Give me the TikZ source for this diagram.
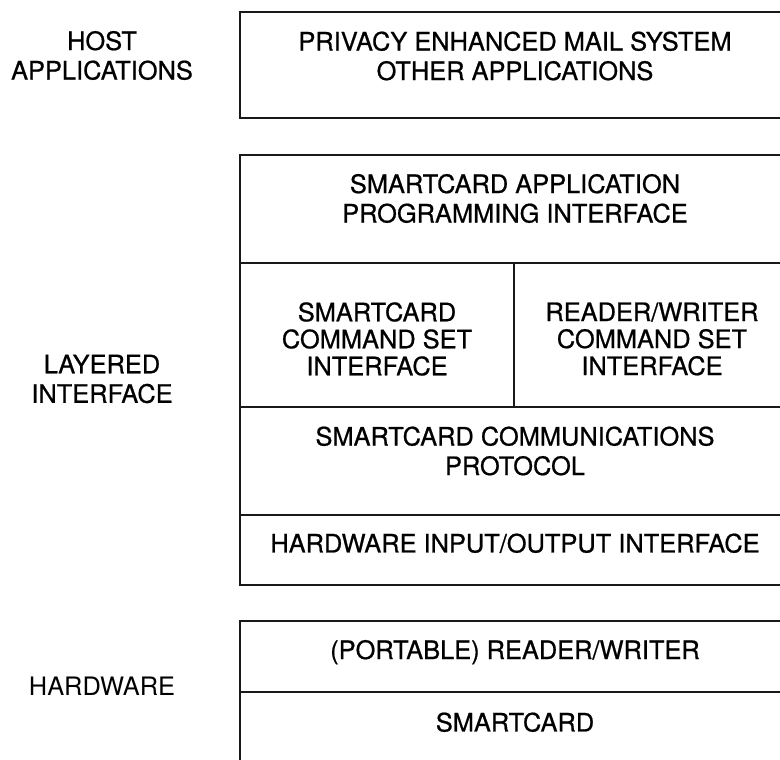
\documentclass[tikz,border=0pt]{standalone}
\usepackage{fontspec}
\setmainfont{TeX Gyre Heros}
\newfontfamily\heavyfont[FakeBold=0.7]{TeX Gyre Heros}
\begin{document}
\begin{tikzpicture}[x=1pt,y=-1pt,
  frame/.style={line width=1.7pt, draw=black!90},
  lbl/.style={align=center, inner sep=0pt, font=\heavyfont\fontsize{25.4}{29.5}\selectfont},
  lblc/.style={align=center, inner sep=0pt, font=\heavyfont\fontsize{25.4}{27}\selectfont}]
\useasboundingbox (0,0) rectangle (780,760);
% frames
\draw[frame] (240,12) rectangle (792,118);
\draw[frame] (240,155) rectangle (792,585);
\draw[frame] (240,263) -- (792,263);
\draw[frame] (240,407) -- (792,407);
\draw[frame] (240,515) -- (792,515);
\draw[frame] (514,263) -- (514,407);
\draw[frame] (240,800) -- (240,621) -- (792,621);
\draw[frame] (240,692) -- (792,692);
% side labels
\node[lbl] (host) at (102,55.5) {HOST\\APPLICATIONS};
\node[lbl] (layered) at (102,379) {LAYERED\\INTERFACE};
\node[lbl, text depth=0pt, font=\rmfamily\fontsize{25.4}{29.5}\selectfont] (hardware) at (102,686) {HARDWARE};
% box texts
\node[lbl] (pem) at (515,56) {PRIVACY ENHANCED MAIL SYSTEM\\OTHER APPLICATIONS};
\node[lbl] (api) at (515,198.5) {SMARTCARD APPLICATION\\PROGRAMMING INTERFACE};
\node[lblc] (sccmd) at (377,339) {SMARTCARD\\COMMAND SET\\INTERFACE};
\node[lblc] (rwcmd) at (652,339) {READER/WRITER\\COMMAND SET\\INTERFACE};
\node[lbl] (proto) at (515,451) {SMARTCARD COMMUNICATIONS\\PROTOCOL};
\node[lbl, text depth=0pt] (hwio) at (515,543) {HARDWARE INPUT/OUTPUT INTERFACE};
\node[lbl, text depth=0pt, text height=18pt] (reader) at (515,650) {(PORTABLE) READER/WRITER};
\node[lbl, text depth=0pt] (card) at (515,722) {SMARTCARD};
\end{tikzpicture}
\end{document}
